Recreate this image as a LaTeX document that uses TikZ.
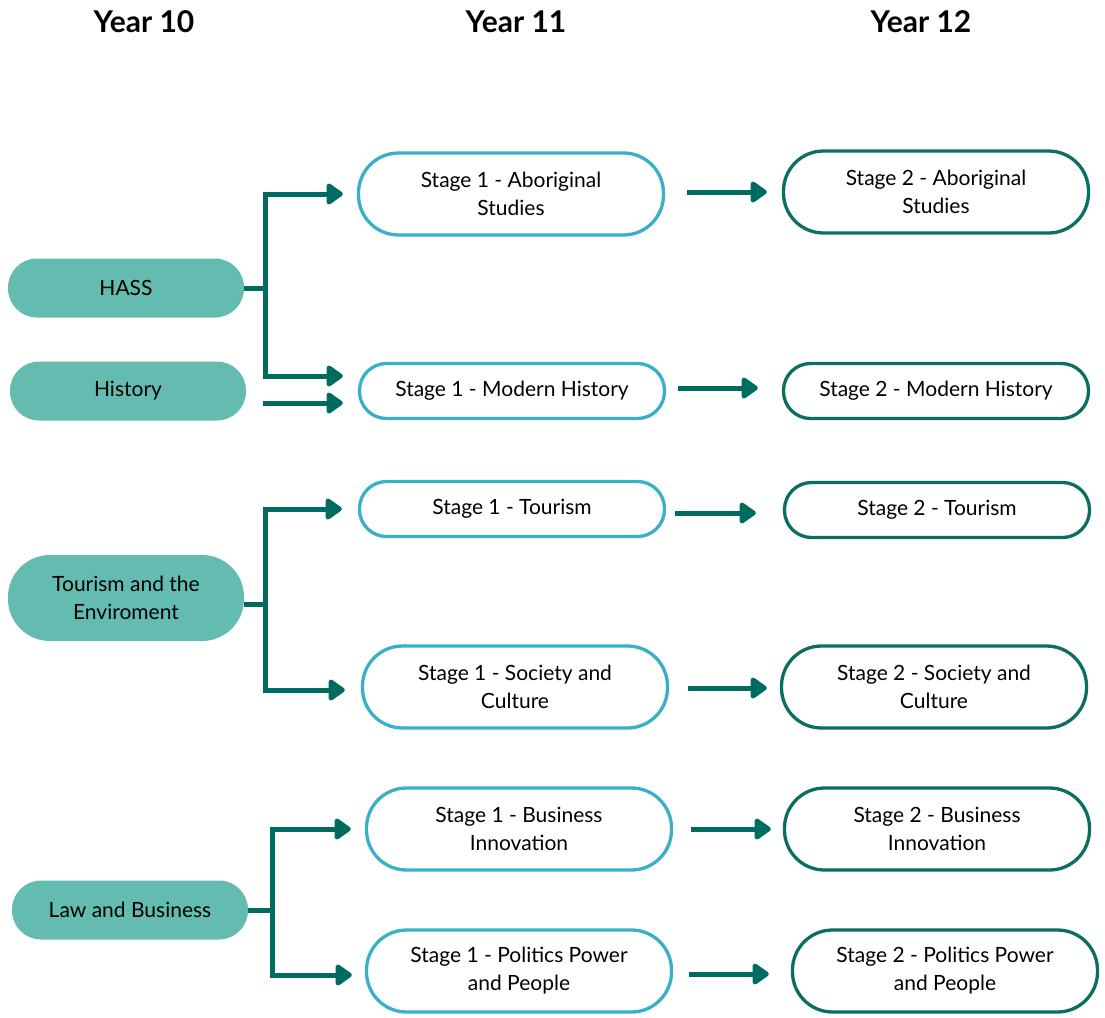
\documentclass[tikz,border=0pt]{standalone}
\usepackage{fontspec}
\setmainfont{Lato}
\usetikzlibrary{arrows.meta}
\definecolor{leaf}{HTML}{63BCAF}
\definecolor{sky}{HTML}{3AB0C8}
\definecolor{pine}{HTML}{0B6E61}
\definecolor{arrowc}{HTML}{006C5F}
\begin{document}
\begin{tikzpicture}[x=1pt,y=-1pt,
  every node/.style={font=\fontsize{21}{28}\selectfont, align=center, inner sep=0pt},
  head/.style={font=\fontsize{30}{34}\selectfont\bfseries},
  subj/.style={fill=leaf, minimum width=236pt, minimum height=59pt, rounded corners=29pt},
  tall/.style={minimum height=86pt, rounded corners=42pt},
  yelev/.style={draw=sky, line width=3.3pt, minimum width=305pt, minimum height=55pt, rounded corners=27pt, fill=white},
  ytwel/.style={draw=pine, line width=3.3pt, minimum width=305pt, minimum height=55pt, rounded corners=27pt, fill=white},
  big/.style={minimum height=82pt, rounded corners=40pt},
  link/.style={draw=arrowc, line width=5pt, -{Triangle[length=18pt,width=24pt,round]}},
  trunk/.style={draw=arrowc, line width=5pt}
]
\useasboundingbox (0,0) rectangle (1105,1017);

% column headings
\node[head] (h10) at (144,22) {Year 10};
\node[head] (h11) at (516,22) {Year 11};
\node[head] (h12) at (921,22) {Year 12};

% Year 10 subjects
\node[subj] (hass) at (126,288) {HASS};
\node[subj] (hist) at (128,391) {History};
\node[subj,tall] (tour) at (126,598) {Tourism and the\\Enviroment};
\node[subj] (law) at (130,910) {Law and Business};

% Year 11 subjects
\node[yelev,big] (ab1) at (511,194) {Stage 1 - Aboriginal\\Studies};
\node[yelev] (mh1) at (512,391) {Stage 1 - Modern History};
\node[yelev] (to1) at (512,509) {Stage 1 - Tourism};
\node[yelev,big] (sc1) at (515,687) {Stage 1 - Society and\\Culture};
\node[yelev,big] (bi1) at (519,829) {Stage 1 - Business\\Innovation};
\node[yelev,big] (pp1) at (519,971) {Stage 1 - Politics Power\\and People};

% Year 12 subjects
\node[ytwel,big] (ab2) at (936,192) {Stage 2 - Aboriginal\\Studies};
\node[ytwel] (mh2) at (936,391) {Stage 2 - Modern History};
\node[ytwel] (to2) at (937,510) {Stage 2 - Tourism};
\node[ytwel,big] (sc2) at (934,687) {Stage 2 - Society and\\Culture};
\node[ytwel,big] (bi2) at (937,829) {Stage 2 - Business\\Innovation};
\node[ytwel,big] (pp2) at (945,971) {Stage 2 - Politics Power\\and People};

% branch points
\coordinate (hb) at (265,288);
\coordinate (tb) at (265,604);
\coordinate (lb) at (272,910);

% HASS branches
\draw[trunk] (hass.east) -- (hb);
\draw[link, shorten >=14pt] (hb) |- (ab1.west);
\coordinate (mhtop) at ([yshift=15pt]mh1.west);
\draw[link, shorten >=15pt] (hb) |- (mhtop);
\coordinate (histout) at ([xshift=17pt,yshift=-12pt]hist.east);
\draw[link, shorten >=15pt] (histout) -- (histout -| mh1.west);

% Tourism branches
\draw[trunk] (tour.east |- tb) -- (tb);
\draw[link, shorten >=16pt] (tb) |- (to1.west);
\coordinate (scin) at ([yshift=-3pt]sc1.west);
\draw[link, shorten >=16pt] (tb) |- (scin);

% Law and Business branches
\draw[trunk] (law.east) -- (lb);
\draw[link, shorten >=14pt] (lb) |- (bi1.west);
\coordinate (ppin) at ([yshift=-4pt]pp1.west);
\draw[link, shorten >=13pt] (lb) |- (ppin);

% Year 11 to Year 12
\coordinate (o1) at ([xshift=22pt,yshift=2pt]ab1.east);
\draw[link, shorten >=15pt] (o1) -- (o1 -| ab2.west);
\coordinate (o2) at ([xshift=12pt,yshift=3pt]mh1.east);
\draw[link, shorten >=24pt] (o2) -- (o2 -| mh2.west);
\coordinate (o3) at ([xshift=9pt,yshift=-4pt]to1.east);
\draw[link, shorten >=27pt] (o3) -- (o3 -| to2.west);
\coordinate (o4) at ([xshift=19pt,yshift=-1pt]sc1.east);
\draw[link, shorten >=13pt] (o4) -- (o4 -| sc2.west);
\coordinate (o5) at ([xshift=18pt]bi1.east);
\draw[link, shorten >=12pt] (o5) -- (o5 -| bi2.west);
\coordinate (o6) at ([xshift=16pt,yshift=-3pt]pp1.east);
\draw[link, shorten >=22pt] (o6) -- (o6 -| pp2.west);
\end{tikzpicture}
\end{document}
